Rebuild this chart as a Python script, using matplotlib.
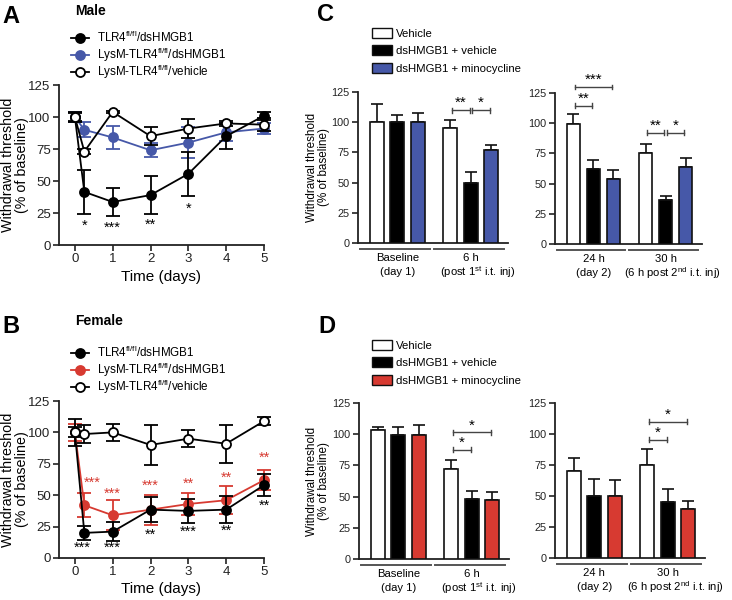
import numpy as np
import matplotlib
matplotlib.use('Agg')
import matplotlib.pyplot as plt
from matplotlib.lines import Line2D
from matplotlib.patches import Rectangle
import matplotlib.transforms as mtransforms

plt.rcParams['font.family'] = ['Liberation Sans', 'DejaVu Sans']
plt.rcParams['mathtext.fontset'] = 'custom'
plt.rcParams['mathtext.rm'] = 'Liberation Sans'
plt.rcParams['mathtext.it'] = 'Liberation Sans:italic'
plt.rcParams['mathtext.bf'] = 'Liberation Sans:bold'
plt.rcParams['font.size'] = 8

W, H = 732, 600

# ---- time course data (panels A and B)
days = [0, 0.25, 1, 2, 3, 4, 5]
day_ticks = [0, 1, 2, 3, 4, 5]

male_ctrl = [100, 41.5, 33.6, 39, 55.6, 85, 101]
male_ctrl_err = [4, 17, 11, 15, 17, 10, 3]
male_lysm = [100, 90, 84, 74, 80, 88, 91]
male_lysm_err = [4, 6, 9, 5.5, 12, 7, 4]
male_veh = [100, 73, 104, 85, 91, 95, 94]
male_veh_err = [3, 2, 1, 7, 7.5, 2, 5]

female_ctrl = [100, 20, 21, 38.5, 37.5, 38.5, 58]
female_ctrl_err = [11, 5.5, 7.5, 10, 9.5, 11, 8.5]
female_lysm = [100, 42, 34, 38.5, 43, 46, 62]
female_lysm_err = [7, 9.5, 12, 12, 8.5, 11, 8]
female_veh = [100, 98.7, 100, 90, 95, 91, 109]
female_veh_err = [4, 7.5, 6.5, 16, 7, 15, 3]

# significance stars (x, text, y)
male_stars = [(0.25, '*', 15), (1, '***', 13.5), (2, '**', 16), (3, '*', 28)]
female_stars_red = [(0.45, '***', 59.5), (1, '***', 51), (2, '***', 57.7),
                    (3, '**', 59), (4, '**', 64), (5, '**', 79.4)]
female_stars_black = [(0.2, '***', 8), (1, '***', 8), (2, '**', 18.5),
                      (3, '***', 21), (4, '**', 21.7), (5, '**', 41.5)]

# ---- bar data (panels C and D)
groups = ['Baseline\n(day 1)', '6 h\n(post 1$^{\\mathrm{st}}$ i.t. inj)',
          '24 h\n(day 2)', '30 h\n(6 h post 2$^{\\mathrm{nd}}$ i.t. inj)']
bar_labels = ['Vehicle', 'dsHMGB1 + vehicle', 'dsHMGB1 + minocycline']

c_vehicle = [100, 95, 99, 75.5]
c_vehicle_err = [15, 7, 9, 7.5]
c_dshmgb1 = [100, 49.5, 62, 36.5]
c_dshmgb1_err = [6, 9.5, 7.5, 3]
c_mino = [100, 77, 54, 63.5]
c_mino_err = [8, 4, 7, 8]

d_vehicle = [103.5, 72.5, 70, 75.3]
d_vehicle_err = [2.5, 7, 10.5, 12.5]
d_dshmgb1 = [99, 48, 50.3, 45]
d_dshmgb1_err = [6.5, 6.6, 13.4, 10.6]
d_mino = [99, 47.5, 49.7, 39.7]
d_mino_err = [8, 6.5, 13, 6.5]

# brackets: (group, bar i, bar j, y, text)
c_brackets = [(1, 0, 1, 110, '**'), (1, 1, 2, 110, '*'),
              (2, 0, 2, 130, '***'), (2, 0, 1, 114.5, '**'),
              (3, 0, 1, 92, '**'), (3, 1, 2, 92, '*')]
d_brackets = [(1, 0, 1, 87.5, '*'), (1, 0, 2, 101.5, '*'),
              (3, 0, 1, 95.4, '*'), (3, 0, 2, 109.7, '*')]

blue = '#4658a8'
red = '#d73a31'
yticks = [0, 25, 50, 75, 100, 125]
ylab = 'Withdrawal threshold\n(% of baseline)'


def px_rect(x0, y_top, x1, y_bot):
    return [x0 / W, 1 - y_bot / H, (x1 - x0) / W, (y_bot - y_top) / H]


def style_axis(ax, fs):
    for s in ['top', 'right']:
        ax.spines[s].set_visible(False)
    for s in ['left', 'bottom']:
        ax.spines[s].set_linewidth(1.3)
        ax.spines[s].set_color('#222222')
    ax.tick_params(direction='out', length=4, width=1.2, labelsize=fs, colors='#222222',
                   pad=2)
    ax.set_ylim(0, 125)
    ax.set_yticks(yticks)


def plot_series(ax, y, err, color, mfc, z):
    eb = ax.errorbar(days, y, yerr=err, fmt='-o', color=color, mfc=mfc, mec=color,
                     ms=6.5, mew=1.3, lw=1.3, capsize=5, capthick=1.3, elinewidth=1.3,
                     zorder=z)
    for art in eb.get_children():
        art.set_clip_on(False)


def time_panel(rect, ctrl, ctrl_err, lysm, lysm_err, veh, veh_err, col):
    ax = fig.add_axes(rect)
    style_axis(ax, 9.5)
    plot_series(ax, lysm, lysm_err, col, col, 3)
    plot_series(ax, ctrl, ctrl_err, 'black', 'black', 4)
    plot_series(ax, veh, veh_err, 'black', 'white', 5)
    ax.set_xlim(-0.42, 5)
    ax.set_xticks(day_ticks)
    ax.set_xlabel('Time (days)', fontsize=11, labelpad=3)
    ax.set_ylabel(ylab, fontsize=10.3, linespacing=0.95)
    ax.yaxis.label.set_va('center')
    ax.yaxis.set_label_coords((15 - 59) / 205, 0.5)
    return ax


def bar_panel(rect, groups_idx, veh, veh_err, ds, ds_err, mino, mino_err, col,
              brackets, ylabel):
    ax = fig.add_axes(rect)
    style_axis(ax, 7.8)
    ax.set_xlim(-0.92, 6.42)
    ax.set_xticks([])
    hpx = rect[3] * H
    trans = mtransforms.blended_transform_factory(ax.transData, ax.transAxes)
    offsets = [0, 3.6]
    for k, g in enumerate(groups_idx):
        off = offsets[k]
        vals = [veh[g], ds[g], mino[g]]
        errs = [veh_err[g], ds_err[g], mino_err[g]]
        cols = ['white', 'black', col]
        for i in range(3):
            ax.bar(off + i, vals[i], width=0.68, color=cols[i], edgecolor='#111111',
                   linewidth=1.2, zorder=3)
            ax.errorbar(off + i, vals[i], yerr=[[0], [errs[i]]], fmt='none',
                        ecolor='#111111', elinewidth=1.2, capsize=4, capthick=1.2, zorder=2)
        ax.plot([off - 0.82, off + 2.6], [-6 / hpx, -6 / hpx], transform=trans,
                color='#555555', lw=1.4, clip_on=False)
        line1, line2 = groups[g].split('\n')
        shift = 0.35 if len(line2) > 12 else 0
        ax.text(off + 1, -15 / hpx, line1, transform=trans, ha='center', va='center',
                fontsize=8.1)
        ax.text(off + 1 + shift, -29 / hpx, line2, transform=trans, ha='center',
                va='center', fontsize=8.1)
    for g, i, j, y, txt in brackets:
        if g not in groups_idx:
            continue
        off = offsets[groups_idx.index(g)]
        x0, x1 = off + i + 0.06, off + j - 0.06
        ax.plot([x0, x1], [y, y], color='#444444', lw=1.0, clip_on=False)
        ax.plot([x0, x0], [y - 2, y + 2], color='#444444', lw=1.0, clip_on=False)
        ax.plot([x1, x1], [y - 2, y + 2], color='#444444', lw=1.0, clip_on=False)
        ax.text((x0 + x1) / 2, y, txt, ha='center', va='bottom', fontsize=11,
                clip_on=False)
    if ylabel:
        ax.set_ylabel(ylab, fontsize=8.4, linespacing=1.0)
        ax.yaxis.label.set_va('center')
        ax.yaxis.set_label_coords((318 - rect[0] * W) / (rect[2] * W), 0.5)
    return ax


fig = plt.figure(figsize=(W / 100, H / 100), dpi=100)

# Panel A
axA = time_panel(px_rect(59, 85, 264, 245), male_ctrl, male_ctrl_err,
                 male_lysm, male_lysm_err, male_veh, male_veh_err, blue)
for x, t, y in male_stars:
    axA.text(x, y, t, ha='center', va='center', fontsize=10.5)

# Panel B
axB = time_panel(px_rect(59, 401, 264, 558), female_ctrl, female_ctrl_err,
                 female_lysm, female_lysm_err, female_veh, female_veh_err, red)
for x, t, y in female_stars_red:
    axB.text(x, y, t, ha='center', va='center', fontsize=10.5, color=red)
for x, t, y in female_stars_black:
    axB.text(x, y, t, ha='center', va='center', fontsize=10.5, color='black')

# Panels C and D
bar_panel(px_rect(358, 92, 508, 243), [0, 1], c_vehicle, c_vehicle_err, c_dshmgb1,
          c_dshmgb1_err, c_mino, c_mino_err, blue, c_brackets, True)
bar_panel(px_rect(555, 93, 702, 244), [2, 3], c_vehicle, c_vehicle_err, c_dshmgb1,
          c_dshmgb1_err, c_mino, c_mino_err, blue, c_brackets, False)
bar_panel(px_rect(359, 403, 509, 559), [0, 1], d_vehicle, d_vehicle_err, d_dshmgb1,
          d_dshmgb1_err, d_mino, d_mino_err, red, d_brackets, True)
bar_panel(px_rect(555, 403, 705, 558), [2, 3], d_vehicle, d_vehicle_err, d_dshmgb1,
          d_dshmgb1_err, d_mino, d_mino_err, red, d_brackets, False)

# legends (drawn by hand so rows sit where the reference has them)
line_labels = ['TLR4$^{\\mathrm{fl/fl}}$/dsHMGB1', 'LysM-TLR4$^{\\mathrm{fl/fl}}$/dsHMGB1',
               'LysM-TLR4$^{\\mathrm{fl/fl}}$/vehicle']


def line_legend(col, rows):
    styles = [('black', 'black'), (col, col), ('black', 'white')]
    for (c, mfc), lab, y in zip(styles, line_labels, rows):
        yf = 1 - y / H
        fig.add_artist(Line2D([71 / W, 89 / W], [yf, yf], transform=fig.transFigure,
                              color=c, lw=1.3))
        fig.add_artist(Line2D([80 / W], [yf], transform=fig.transFigure, color=c,
                              marker='o', ms=6.5, mfc=mfc, mec=c, mew=1.3, lw=0))
        fig.text(97 / W, 1 - (y + 4) / H, lab, fontsize=8.4, va='baseline')


def bar_legend(col, rows):
    for c, lab, y in zip(['white', 'black', col], bar_labels, rows):
        fig.add_artist(Rectangle((372 / W, 1 - (y + 5) / H), 20 / W, 10 / H,
                                 transform=fig.transFigure, facecolor=c,
                                 edgecolor='#111111', lw=1.0))
        fig.text(396 / W, 1 - (y + 4) / H, lab, fontsize=8.2, va='baseline')


line_legend(blue, [38, 55, 72])
line_legend(red, [353, 370, 387])
bar_legend(blue, [33, 50, 68])
bar_legend(red, [345, 362, 380])

# panel letters and titles
fig.text(2 / W, 1 - 23 / H, 'A', fontsize=17, fontweight='bold', va='baseline')
fig.text(75 / W, 1 - 15 / H, 'Male', fontsize=10, fontweight='bold', va='baseline')
fig.text(2 / W, 1 - 333 / H, 'B', fontsize=17, fontweight='bold', va='baseline')
fig.text(75 / W, 1 - 325 / H, 'Female', fontsize=10, fontweight='bold', va='baseline')
fig.text(317 / W, 1 - 21 / H, 'C', fontsize=17, fontweight='bold', va='baseline')
fig.text(318 / W, 1 - 333 / H, 'D', fontsize=17, fontweight='bold', va='baseline')

fig.savefig('out.png', dpi=100)
